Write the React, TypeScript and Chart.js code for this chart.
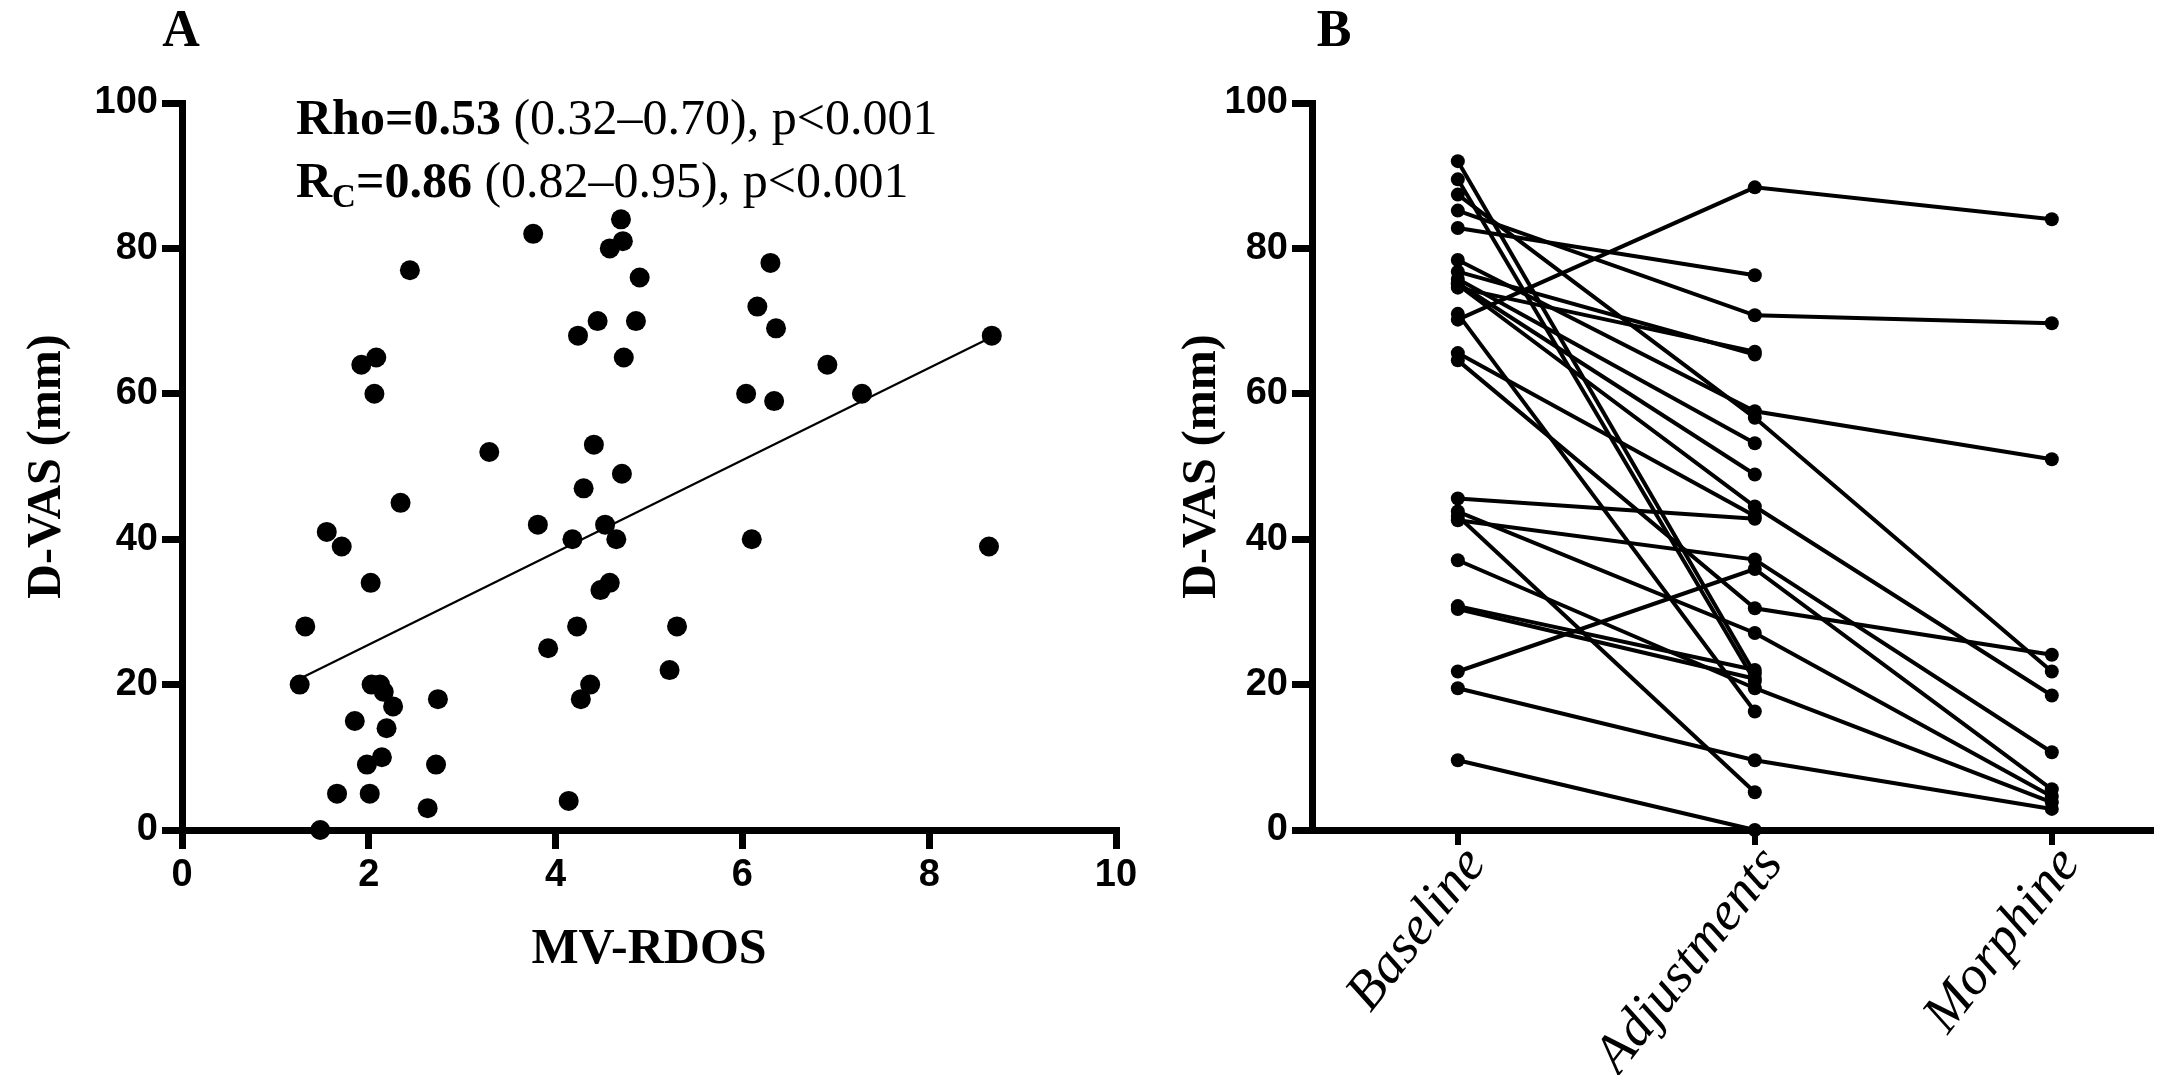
import React, { useEffect, useRef } from "react";
import { Chart, registerables } from "chart.js";

Chart.register(...registerables);

// ---------- Panel A data (MV-RDOS vs D-VAS) ----------
const rdos = [
  3.76, 4.70, 4.72, 4.58, 4.90, 2.44, 4.45, 4.86, 4.24, 4.73,
  2.08, 1.92, 2.06, 3.29, 4.41, 4.71, 4.30, 2.34, 3.81, 4.53,
  4.18, 4.65, 1.55, 1.71, 2.02, 4.58, 4.48, 1.32, 4.23, 5.30,
  3.92, 5.22, 1.26, 2.03, 2.12, 2.16, 2.26, 4.37, 4.27, 2.74,
  1.85, 2.19, 2.14, 1.98, 2.72, 1.66, 2.01, 2.63, 4.14, 1.48,
  6.30, 6.16, 6.36, 6.91, 6.04, 6.34, 7.28, 8.67, 6.10, 8.64,
];
const dvasA = [
  82, 84, 81, 80, 76, 77, 70, 70, 68, 65,
  65, 64, 60, 52, 53, 49, 47, 45, 42, 42,
  40, 40, 41, 39, 34, 34, 33, 28, 28, 28,
  25, 22, 20, 20, 20, 19, 17, 20, 18, 18,
  15, 14, 10, 9, 9, 5, 5, 3, 4, 0,
  78, 72, 69, 64, 60, 59, 60, 68, 40, 39,
];
const fitX = [1.26, 8.67];
const fitY = [20.8, 67.8];
const xTicksA = [0, 2, 4, 6, 8, 10];
const yTicks = [0, 20, 40, 60, 80, 100];

const rhoBold = "Rho=0.53";
const rhoRest = " (0.32\u20130.70), p<0.001";
const rcMain = "R";
const rcSub = "C";
const rcBold = "=0.86";
const rcRest = " (0.82\u20130.95), p<0.001";

// ---------- Panel B data (paired D-VAS by phase) ----------
const phases = ["Baseline", "Adjustments", "Morphine"];
const baseline = [
  92.0, 89.5, 87.4, 85.2, 82.8, 78.4, 76.8, 75.8, 75.0, 74.6,
  75.2, 70.2, 71.0, 65.6, 64.6, 45.6, 43.8, 43.2, 42.6, 37.1,
  30.8, 30.4, 21.8, 19.5, 9.6,
];
const adjustments = [
  21.5, 20.5, 56.7, 70.8, 76.3, 57.6, 65.4, 53.2, 44.5, 65.8,
  48.9, 88.4, 16.3, 43.2, 30.5, 42.8, 27.1, 5.2, 37.2, 19.5,
  22.0, 20.8, 35.9, 9.6, 0,
];
const morphine: (number | null)[] = [
  null, null, 21.8, 69.7, null, 51.0, null, null, 18.5, null,
  null, 84.0, null, null, 24.1, null, 4.6, null, 10.7, 3.8,
  null, null, 5.6, 2.9, null,
];

const TICK_FONT = { family: "'Liberation Sans', Arial, sans-serif", weight: "bold" as const, size: 38 };
const SERIF = "'Liberation Serif', 'Times New Roman', serif";

const letterPlugin = (letter: string, x: number, y: number) => ({
  id: "panelLetter" + letter,
  afterDraw(chart: any) {
    const ctx = chart.ctx;
    ctx.save();
    ctx.fillStyle = "#000";
    ctx.font = `700 52px ${SERIF}`;
    ctx.textAlign = "center";
    ctx.textBaseline = "alphabetic";
    ctx.fillText(letter, x, y);
    ctx.restore();
  },
});

const statsPlugin = {
  id: "statsText",
  afterDraw(chart: any) {
    const ctx = chart.ctx;
    ctx.save();
    ctx.fillStyle = "#000";
    ctx.textAlign = "left";
    ctx.textBaseline = "alphabetic";
    const bold = `700 50px ${SERIF}`;
    const reg = `400 50px ${SERIF}`;
    const sub = `700 33px ${SERIF}`;
    let x = 296;
    let y = 134;
    ctx.font = bold;
    ctx.fillText(rhoBold, x, y);
    x += ctx.measureText(rhoBold).width;
    ctx.font = reg;
    ctx.fillText(rhoRest, x, y);

    x = 296;
    y = 197;
    ctx.font = bold;
    ctx.fillText(rcMain, x, y);
    x += ctx.measureText(rcMain).width;
    ctx.font = sub;
    ctx.fillText(rcSub, x, y + 10);
    x += ctx.measureText(rcSub).width;
    ctx.font = bold;
    ctx.fillText(rcBold, x, y);
    x += ctx.measureText(rcBold).width;
    ctx.font = reg;
    ctx.fillText(rcRest, x, y);
    ctx.restore();
  },
};

function PanelA() {
  const ref = useRef<HTMLCanvasElement>(null);
  useEffect(() => {
    const points = rdos.map((x, i) => ({ x, y: dvasA[i] }));
    const fit = fitX.map((x, i) => ({ x, y: fitY[i] }));
    const chart = new Chart(ref.current as HTMLCanvasElement, {
      type: "scatter",
      data: {
        datasets: [
          {
            data: points,
            backgroundColor: "#000",
            borderColor: "#000",
            pointRadius: 10,
            borderWidth: 0,
            clip: false as any,
            order: 0,
          },
          {
            data: fit,
            showLine: true,
            borderColor: "#000",
            borderWidth: 2.2,
            pointRadius: 0,
            clip: false as any,
            order: 1,
          } as any,
        ],
      },
      options: {
        responsive: false,
        animation: false,
        events: [],
        layout: { padding: { left: 0, top: 103, right: 34, bottom: 45 } },
        plugins: { legend: { display: false }, tooltip: { enabled: false } },
        scales: {
          x: {
            type: "linear",
            min: 0,
            max: 10,
            afterBuildTicks: (s: any) => {
              s.ticks = xTicksA.map((v) => ({ value: v }));
            },
            afterFit: (s: any) => {
              s.height = 200;
            },
            grid: { drawOnChartArea: false, color: "#000", lineWidth: 7, tickLength: 19 },
            border: { display: true, color: "#000", width: 7 },
            ticks: { color: "#000", font: TICK_FONT, padding: 4, maxRotation: 0, autoSkip: false },
            title: {
              display: true,
              text: "MV-RDOS",
              color: "#000",
              font: { family: SERIF, weight: "bold", size: 50 },
              padding: { top: 0, bottom: 50 },
            },
          },
          y: {
            type: "linear",
            min: 0,
            max: 100,
            afterBuildTicks: (s: any) => {
              s.ticks = yTicks.map((v) => ({ value: v }));
            },
            afterFit: (s: any) => {
              s.width = 182;
            },
            grid: { drawOnChartArea: false, color: "#000", lineWidth: 7, tickLength: 20 },
            border: { display: true, color: "#000", width: 7 },
            ticks: { color: "#000", font: TICK_FONT, padding: 4, autoSkip: false },
            title: {
              display: true,
              text: "D-VAS (mm)",
              color: "#000",
              font: { family: SERIF, weight: "bold", size: 48 },
              padding: { top: 19, bottom: 0 },
            },
          },
        },
      },
      plugins: [statsPlugin, letterPlugin("A", 181, 46)],
    });
    return () => chart.destroy();
  }, []);
  return (
    <canvas
      ref={ref}
      width={1150}
      height={1075}
      style={{ position: "absolute", left: 0, top: 0, width: 1150, height: 1075 }}
    />
  );
}

function PanelB() {
  const ref = useRef<HTMLCanvasElement>(null);
  useEffect(() => {
    const datasets = baseline.map((b, i) => {
      const data: { x: number; y: number }[] = [
        { x: 0, y: b },
        { x: 1, y: adjustments[i] },
      ];
      const m = morphine[i];
      if (m !== null) data.push({ x: 2, y: m });
      return {
        data,
        borderColor: "#000",
        backgroundColor: "#000",
        borderWidth: 4,
        pointRadius: 7,
        pointBorderWidth: 0,
        tension: 0,
        clip: false as any,
      };
    });
    const chart = new Chart(ref.current as HTMLCanvasElement, {
      type: "line",
      data: { datasets },
      options: {
        responsive: false,
        animation: false,
        events: [],
        parsing: false as any,
        layout: { padding: { left: 0, top: 103, right: 0, bottom: 0 } },
        plugins: { legend: { display: false }, tooltip: { enabled: false } },
        scales: {
          x: {
            type: "linear",
            min: -0.491,
            max: 2.334,
            afterBuildTicks: (s: any) => {
              s.ticks = phases.map((_, i) => ({ value: i }));
            },
            afterFit: (s: any) => {
              s.height = 245;
            },
            grid: { drawOnChartArea: false, color: "#000", lineWidth: 6, tickLength: 15 },
            border: { display: true, color: "#000", width: 7 },
            ticks: {
              color: "#000",
              font: { family: SERIF, style: "italic", weight: "normal", size: 55 },
              padding: -10,
              labelOffset: 18,
              minRotation: 52,
              maxRotation: 52,
              autoSkip: false,
              callback: (v: any) => phases[v as number] ?? "",
            },
          },
          y: {
            type: "linear",
            min: 0,
            max: 100,
            afterBuildTicks: (s: any) => {
              s.ticks = yTicks.map((v) => ({ value: v }));
            },
            afterFit: (s: any) => {
              s.width = 162;
            },
            grid: { drawOnChartArea: false, color: "#000", lineWidth: 7, tickLength: 20 },
            border: { display: true, color: "#000", width: 7 },
            ticks: { color: "#000", font: TICK_FONT, padding: 4, autoSkip: false },
            title: {
              display: true,
              text: "D-VAS (mm)",
              color: "#000",
              font: { family: SERIF, weight: "bold", size: 48 },
              padding: { top: 24, bottom: 0 },
            },
          },
        },
      },
      plugins: [letterPlugin("B", 184, 46)],
    });
    return () => chart.destroy();
  }, []);
  return (
    <canvas
      ref={ref}
      width={1008}
      height={1075}
      style={{ position: "absolute", left: 1150, top: 0, width: 1008, height: 1075 }}
    />
  );
}

export default function App() {
  return (
    <div
      style={{
        position: "absolute",
        left: 0,
        top: 0,
        width: 2158,
        height: 1075,
        background: "#fff",
        overflow: "hidden",
      }}
    >
      <PanelA />
      <PanelB />
    </div>
  );
}
